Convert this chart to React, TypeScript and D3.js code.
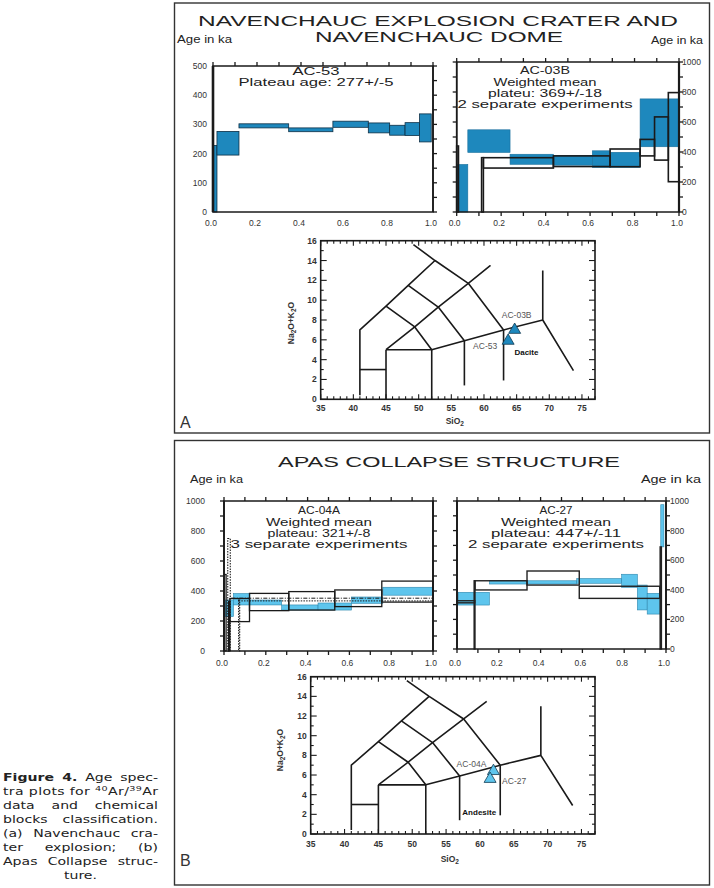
import React, { useEffect, useRef } from "react";
import * as d3 from "d3";

const W = 714;
const H = 888;

// ---------------- Data ----------------
const FRACTION_LABELS = [0, 0.2, 0.4, 0.6, 0.8, 1.0];
const AGE_LABELS_500 = [0, 100, 200, 300, 400, 500];
const AGE_LABELS_1000 = [0, 200, 400, 600, 800, 1000];
const SIO2_LABELS = [35, 40, 45, 50, 55, 60, 65, 70, 75];
const ALK_LABELS = [0, 2, 4, 6, 8, 10, 12, 14, 16];

type Step = [number, number, number, number]; // [cum. 39Ar start, end, age low, age high] (ka)

const AC53_STEPS: Step[] = [
  [0.0, 0.018, 0, 228],
  [0.018, 0.118, 195, 276],
  [0.118, 0.344, 288, 302],
  [0.344, 0.545, 275, 288],
  [0.545, 0.706, 290, 311],
  [0.706, 0.803, 271, 305],
  [0.803, 0.873, 263, 297],
  [0.873, 0.939, 262, 306],
  [0.939, 0.992, 240, 336],
];

const AC03B_EXP1: Step[] = [
  [0.0, 0.05, 0, 317],
  [0.05, 0.24, 397, 548],
  [0.24, 0.435, 318, 385],
  [0.435, 0.61, 312, 378],
  [0.61, 0.69, 297, 408],
  [0.69, 0.825, 297, 398],
  [0.825, 1.0, 435, 754],
];
const AC03B_EXP2: Step[] = [
  [0.0, 0.008, 0, 440],
  [0.112, 0.12, 0, 362],
  [0.12, 0.435, 293, 362],
  [0.435, 0.69, 303, 374],
  [0.69, 0.825, 302, 420],
  [0.825, 0.89, 374, 484],
  [0.89, 0.952, 346, 634],
  [0.952, 1.0, 202, 796],
];

const AC04A_EXP1: Step[] = [
  [0.005, 0.045, 229, 340],
  [0.045, 0.124, 307, 383],
  [0.124, 0.276, 307, 340],
  [0.276, 0.45, 273, 307],
  [0.45, 0.61, 273, 320],
  [0.61, 0.76, 318, 360],
  [0.76, 1.0, 372, 425],
];
const AC04A_EXP2: Step[] = [
  [0.0, 0.01, 0, 510],
  [0.022, 0.028, 0, 330],
  [0.028, 0.122, 196, 350],
  [0.122, 0.31, 269, 384],
  [0.31, 0.53, 273, 396],
  [0.53, 0.755, 296, 407],
  [0.755, 1.0, 326, 466],
];
const AC04A_EXP3: Step[] = [
  [0.018, 0.03, 0, 750],
  [0.07, 0.075, 0, 340],
];
const AC04A_PLATEAU = [
  { start: 0.035, age: 352 },
  { start: 0.07, age: 334 },
];

const AC27_EXP1: Step[] = [
  [0.006, 0.155, 297, 383],
  [0.155, 0.573, 439, 461],
  [0.573, 0.788, 444, 476],
  [0.788, 0.863, 417, 505],
  [0.863, 0.91, 264, 432],
  [0.91, 0.975, 236, 376],
  [0.975, 0.99, 690, 975],
];
const AC27_EXP2: Step[] = [
  [0.0, 0.085, 312, 326],
  [0.082, 0.086, 0, 461],
  [0.086, 0.335, 399, 461],
  [0.335, 0.585, 432, 527],
  [0.585, 0.97, 342, 424],
  [0.972, 0.978, 0, 690],
];

const TAS_FIELD_LINES: [number, number][][] = [
  [[41, 0.4], [41, 7], [45, 9.4], [48.4, 11.5], [52.5, 14]],
  [[49.2, 15.6], [52.5, 14], [57.6, 11.7], [63, 7]],
  [[41, 3], [45, 3]],
  [[45, 0], [45, 5]],
  [[45, 5], [52, 5]],
  [[52, 0], [52, 5]],
  [[45, 5], [49.4, 7.3], [53, 9.3], [57.6, 11.7], [61, 13.5]],
  [[45, 9.4], [49.4, 7.3], [52, 5]],
  [[48.4, 11.5], [53, 9.3], [57, 5.9]],
  [[52, 5], [57, 5.9], [63, 7], [69, 8]],
  [[57, 1.4], [57, 5.9]],
  [[63, 1.9], [63, 7]],
  [[69, 13], [69, 8], [73.7, 2.9]],
];

const SAMPLES_A = [
  { name: "AC-03B", sio2: 64.7, alk: 7.0 },
  { name: "AC-53", sio2: 63.7, alk: 5.9 },
];
const SAMPLES_B = [
  { name: "AC-04A", sio2: 62.0, alk: 6.4 },
  { name: "AC-27", sio2: 61.5, alk: 5.6 },
];
const ROCK_A = { name: "Dacite", sio2: 66.5, alk: 4.5 };
const ROCK_B = { name: "Andesite", sio2: 59.9, alk: 1.9 };

// ---------------- Styles / layout ----------------
const SANS = "'Liberation Sans', Arial, Helvetica, sans-serif";
const BLUE_A = "#1e88bd";
const BLUE_B = "#5ec5ed";
const INK = "#1a1a1a";

interface Layer {
  steps: Step[];
  fill: string;
  stroke: string;
  sw: number;
  dash?: string;
}
interface AgeCfg {
  l: number;
  r: number;
  t: number;
  b: number;
  yMax: number;
  labels: number[];
  labelSide: "left" | "right";
  labelGap: number;
  leftStep: number;
  rightStep: number;
  bottomTicks: boolean;
  leftW: number;
  rightW: number;
  layers: Layer[];
  plateau?: { start: number; age: number; dash: string }[];
  cx: number;
  lines: [string, number, number][];
  xLabelDy: number;
}

function AgeSpectrum({ c }: { c: AgeCfg }) {
  const x = d3.scaleLinear().domain([0, 1]).range([c.l, c.r]);
  const y = d3.scaleLinear().domain([0, c.yMax]).range([c.b, c.t]);
  const minorX = d3.range(0, 11).map((i) => i / 10);
  const leftTicks = c.leftStep ? d3.range(0, c.yMax + 0.1, c.leftStep) : [];
  const rightTicks = c.rightStep ? d3.range(0, c.yMax + 0.1, c.rightStep) : [];
  return (
    <g>
      {c.layers.map((layer, li) =>
        layer.steps.map((s, i) => (
          <rect
            key={`${li}-${i}`}
            x={x(s[0])}
            y={y(s[3])}
            width={x(s[1]) - x(s[0])}
            height={y(s[2]) - y(s[3])}
            fill={layer.fill}
            stroke={layer.stroke}
            strokeWidth={layer.sw}
            strokeDasharray={layer.dash}
          />
        ))
      )}
      {c.plateau?.map((p, i) => (
        <line
          key={`p${i}`}
          x1={x(p.start)}
          x2={x(1)}
          y1={y(p.age)}
          y2={y(p.age)}
          stroke={INK}
          strokeWidth={1}
          strokeDasharray={p.dash}
        />
      ))}
      <rect x={c.l} y={c.t} width={c.r - c.l} height={c.b - c.t} fill="none" stroke={INK} strokeWidth={1.5} />
      <line x1={c.l} x2={c.l} y1={c.t} y2={c.b} stroke={INK} strokeWidth={c.leftW} />
      <line x1={c.r} x2={c.r} y1={c.t} y2={c.b} stroke={INK} strokeWidth={c.rightW} />
      {minorX.map((v) => (
        <line key={`t${v}`} x1={x(v)} x2={x(v)} y1={c.t} y2={c.t - 4} stroke={INK} strokeWidth={1.3} />
      ))}
      {c.bottomTicks &&
        minorX.map((v) => (
          <line key={`b${v}`} x1={x(v)} x2={x(v)} y1={c.b} y2={c.b + 4} stroke={INK} strokeWidth={1.3} />
        ))}
      {leftTicks.map((v) => (
        <line key={`l${v}`} x1={c.l} x2={c.l - 4} y1={y(v)} y2={y(v)} stroke={INK} strokeWidth={1.3} />
      ))}
      {rightTicks.map((v) => (
        <line key={`r${v}`} x1={c.r} x2={c.r + 4} y1={y(v)} y2={y(v)} stroke={INK} strokeWidth={1.3} />
      ))}
      {c.labels.map((v) => (
        <text
          key={`yl${v}`}
          x={c.labelSide === "left" ? c.l - c.labelGap : c.r + c.labelGap}
          y={y(v) + 3}
          fontSize={8.5}
          textAnchor={c.labelSide === "left" ? "end" : "start"}
          fill="#333"
        >
          {v}
        </text>
      ))}
      {FRACTION_LABELS.map((v) => (
        <text key={`xl${v}`} x={x(v) - 2} y={c.b + c.xLabelDy} fontSize={8.5} textAnchor="middle" fill="#333">
          {v.toFixed(1)}
        </text>
      ))}
      {c.lines.map(([s, base, w], i) => (
        <text
          key={`tx${i}`}
          x={c.cx}
          y={base}
          fontSize={11}
          textAnchor="middle"
          textLength={w}
          lengthAdjust="spacingAndGlyphs"
          fill="#222"
        >
          {s}
        </text>
      ))}
    </g>
  );
}

interface TasCfg {
  l: number;
  r: number;
  t: number;
  b: number;
  samples: { name: string; sio2: number; alk: number }[];
  labelOffsets: { dx: number; dy: number; anchor: string }[];
  rock: { name: string; sio2: number; alk: number };
  fill: string;
  yLabelX: number;
  yLabelY: number;
  xLabelY: number;
  tickLabelDy: number;
}

function TAS({ c }: { c: TasCfg }) {
  const x = d3.scaleLinear().domain([35, 77]).range([c.l, c.r]);
  const y = d3.scaleLinear().domain([0, 16]).range([c.b, c.t]);
  const line = d3
    .line<[number, number]>()
    .x((d) => x(d[0]))
    .y((d) => y(d[1]));
  const xt = d3.range(35, 78);
  const yt = d3.range(0, 17);
  const tri = d3.symbol(d3.symbolTriangle, 62)() as string;
  return (
    <g>
      {TAS_FIELD_LINES.map((pts, i) => (
        <path key={i} d={line(pts) as string} fill="none" stroke={INK} strokeWidth={1.6} strokeLinejoin="round" />
      ))}
      <rect x={c.l} y={c.t} width={c.r - c.l} height={c.b - c.t} fill="none" stroke={INK} strokeWidth={1.6} />
      {xt.map((v) => {
        const len = v % 5 === 0 ? 5 : 3;
        return (
          <g key={`x${v}`}>
            <line x1={x(v)} x2={x(v)} y1={c.b} y2={c.b - len} stroke={INK} strokeWidth={1.1} />
            <line x1={x(v)} x2={x(v)} y1={c.t} y2={c.t + len} stroke={INK} strokeWidth={1.1} />
          </g>
        );
      })}
      {yt.map((v) => {
        const len = v % 2 === 0 ? 6 : 3;
        return (
          <g key={`y${v}`}>
            <line x1={c.l} x2={c.l + len} y1={y(v)} y2={y(v)} stroke={INK} strokeWidth={1.1} />
            <line x1={c.r} x2={c.r - len} y1={y(v)} y2={y(v)} stroke={INK} strokeWidth={1.1} />
          </g>
        );
      })}
      {SIO2_LABELS.map((v) => (
        <text key={`xl${v}`} x={x(v)} y={c.b + c.tickLabelDy} fontSize={8.5} fontWeight="bold" textAnchor="middle" fill="#333">
          {v}
        </text>
      ))}
      {ALK_LABELS.map((v) => (
        <text key={`yl${v}`} x={c.l - 4} y={y(v) + 3} fontSize={8.5} fontWeight="bold" textAnchor="end" fill="#333">
          {v}
        </text>
      ))}
      <text x={(c.l + c.r) / 2 - 3} y={c.xLabelY} fontSize={8.5} fontWeight="bold" textAnchor="middle" fill="#333">
        SiO
        <tspan fontSize={6.5} dy={2}>
          2
        </tspan>
      </text>
      <text
        transform={`translate(${c.yLabelX},${c.yLabelY}) rotate(-90)`}
        fontSize={8.5}
        fontWeight="bold"
        textAnchor="middle"
        fill="#333"
      >
        Na
        <tspan fontSize={6.5} dy={2}>
          2
        </tspan>
        <tspan dy={-2}>O+K</tspan>
        <tspan fontSize={6.5} dy={2}>
          2
        </tspan>
        <tspan dy={-2}>O</tspan>
      </text>
      {c.samples.map((s, i) => (
        <g key={s.name}>
          <path
            d={tri}
            transform={`translate(${x(s.sio2)},${y(s.alk)})`}
            fill={c.fill}
            stroke="#123a50"
            strokeWidth={0.8}
          />
          <text
            x={x(s.sio2) + c.labelOffsets[i].dx}
            y={y(s.alk) + c.labelOffsets[i].dy}
            fontSize={8.5}
            textAnchor={c.labelOffsets[i].anchor}
            fill="#555"
          >
            {s.name}
          </text>
        </g>
      ))}
      <text x={x(c.rock.sio2)} y={y(c.rock.alk)} fontSize={8} fontWeight="bold" textAnchor="middle" fill="#111">
        {c.rock.name}
      </text>
    </g>
  );
}

// ---------------- Panel configurations ----------------
const AC53_CFG: AgeCfg = {
  l: 213, r: 433, t: 66, b: 212, yMax: 500,
  labels: AGE_LABELS_500, labelSide: "left", labelGap: 6,
  leftStep: 0, rightStep: 50, bottomTicks: false, leftW: 2.6, rightW: 1.6,
  layers: [{ steps: AC53_STEPS, fill: BLUE_A, stroke: "#0d2f45", sw: 0.8 }],
  cx: 316,
  lines: [["AC-53", 75, 47], ["Plateau age: 277+/-5", 86, 155]],
  xLabelDy: 14,
};
const AC03B_CFG: AgeCfg = {
  l: 456.7, r: 679, t: 62, b: 212, yMax: 1000,
  labels: AGE_LABELS_1000, labelSide: "right", labelGap: 3,
  leftStep: 100, rightStep: 100, bottomTicks: true, leftW: 1.6, rightW: 2.2,
  layers: [
    { steps: AC03B_EXP1, fill: BLUE_A, stroke: "#1a6f9c", sw: 0.6 },
    { steps: AC03B_EXP2, fill: "none", stroke: INK, sw: 1.6 },
  ],
  cx: 545,
  lines: [
    ["AC-03B", 74, 50],
    ["Weighted mean", 85.5, 103],
    ["plateu: 369+/-18", 96.5, 114],
    ["2 separate experiments", 107.5, 175],
  ],
  xLabelDy: 14,
};
const AC04A_CFG: AgeCfg = {
  l: 224, r: 433, t: 501, b: 651, yMax: 1000,
  labels: AGE_LABELS_1000, labelSide: "left", labelGap: 19,
  leftStep: 100, rightStep: 100, bottomTicks: true, leftW: 1.8, rightW: 1.8,
  layers: [
    { steps: AC04A_EXP1, fill: BLUE_B, stroke: "#2d86ad", sw: 0.6 },
    { steps: AC04A_EXP2, fill: "none", stroke: INK, sw: 1.3 },
    { steps: AC04A_EXP3, fill: "none", stroke: INK, sw: 1.1, dash: "1.5 1.2" },
  ],
  plateau: [
    { start: AC04A_PLATEAU[0].start, age: AC04A_PLATEAU[0].age, dash: "4 1.5 1 1.5" },
    { start: AC04A_PLATEAU[1].start, age: AC04A_PLATEAU[1].age, dash: "1.5 1.2" },
  ],
  cx: 319,
  lines: [
    ["AC-04A", 514, 42],
    ["Weighted mean", 525.5, 106],
    ["plateau: 321+/-8", 536.5, 103],
    ["3 separate experiments", 547.5, 177],
  ],
  xLabelDy: 15,
};
const AC27_CFG: AgeCfg = {
  l: 457, r: 666, t: 501, b: 649, yMax: 1000,
  labels: AGE_LABELS_1000, labelSide: "right", labelGap: 4,
  leftStep: 100, rightStep: 100, bottomTicks: true, leftW: 1.8, rightW: 1.8,
  layers: [
    { steps: AC27_EXP1, fill: BLUE_B, stroke: "#2d86ad", sw: 0.6 },
    { steps: AC27_EXP2, fill: "none", stroke: "#222", sw: 1.4 },
  ],
  cx: 556,
  lines: [
    ["AC-27", 514, 33],
    ["Weighted mean", 525.5, 110],
    ["plateau: 447+/-11", 536.5, 130],
    ["2 separate experiments", 547.5, 176],
  ],
  xLabelDy: 17,
};

const TAS_A: TasCfg = {
  l: 320.7, r: 595, t: 240.7, b: 399.3,
  samples: SAMPLES_A,
  labelOffsets: [
    { dx: 2, dy: -12, anchor: "middle" },
    { dx: -23, dy: 8, anchor: "middle" },
  ],
  rock: ROCK_A,
  fill: BLUE_A,
  yLabelX: 294,
  yLabelY: 323,
  xLabelY: 424,
  tickLabelDy: 12,
};
const TAS_B: TasCfg = {
  l: 310.7, r: 595, t: 676.7, b: 834,
  samples: SAMPLES_B,
  labelOffsets: [
    { dx: -22, dy: -4, anchor: "middle" },
    { dx: 12, dy: 5, anchor: "start" },
  ],
  rock: ROCK_B,
  fill: BLUE_B,
  yLabelX: 283,
  yLabelY: 750,
  xLabelY: 862,
  tickLabelDy: 13,
};

const CAPTION_SCALE = 1.28;
const CAPTION_WIDTH = 155;

export default function App() {
  const ref = useRef<SVGSVGElement>(null);

  useEffect(() => {
    if (!ref.current) return;
    d3.select(ref.current)
      .selectAll<SVGTextElement, unknown>("text[data-justify]")
      .each(function () {
        const el = this;
        el.setAttribute("word-spacing", "0");
        const target = +(el.getAttribute("data-justify") || 0);
        const natural = el.getBBox().width;
        const spaces = ((el.textContent || "").match(/ /g) || []).length;
        if (spaces > 0 && target > natural) {
          el.setAttribute("word-spacing", String((target - natural) / spaces));
        }
      });
  }, []);

  const capY = [781, 795, 809, 823, 837, 851, 865];
  const jwNum = CAPTION_WIDTH / CAPTION_SCALE;
  const jw = String(jwNum);
  return (
    <svg
      ref={ref}
      width={W}
      height={H}
      viewBox={`0 0 ${W} ${H}`}
      style={{ position: "absolute", left: 0, top: 0, background: "#fff" }}
      fontFamily={SANS}
    >
      <rect width={W} height={H} fill="#fff" />

      {/* Panel A */}
      <rect x={174.5} y={3} width={535} height={430} fill="none" stroke="#333" strokeWidth={1.4} />
      <text x={438} y={26} fontSize={15} textAnchor="middle" textLength={480} lengthAdjust="spacingAndGlyphs" fill="#222">
        NAVENCHAUC EXPLOSION CRATER AND
      </text>
      <text x={439} y={42} fontSize={15} textAnchor="middle" textLength={248} lengthAdjust="spacingAndGlyphs" fill="#222">
        NAVENCHAUC DOME
      </text>
      <text x={177} y={43} fontSize={10} textLength={55} lengthAdjust="spacingAndGlyphs" fill="#222">
        Age in ka
      </text>
      <text x={651} y={44} fontSize={10} textLength={52} lengthAdjust="spacingAndGlyphs" fill="#222">
        Age in ka
      </text>
      <AgeSpectrum c={AC53_CFG} />
      <AgeSpectrum c={AC03B_CFG} />
      <TAS c={TAS_A} />
      <text x={180} y={428} fontSize={16} fill="#333">
        A
      </text>

      {/* Panel B */}
      <rect x={174.5} y={440.5} width={535} height={444.5} fill="none" stroke="#333" strokeWidth={1.4} />
      <text x={449} y={467} fontSize={15} textAnchor="middle" textLength={342} lengthAdjust="spacingAndGlyphs" fill="#222">
        APAS COLLAPSE STRUCTURE
      </text>
      <text x={190} y={483} fontSize={10} textLength={53} lengthAdjust="spacingAndGlyphs" fill="#222">
        Age in ka
      </text>
      <text x={641} y={483} fontSize={10} textLength={60} lengthAdjust="spacingAndGlyphs" fill="#222">
        Age in ka
      </text>
      <AgeSpectrum c={AC04A_CFG} />
      <AgeSpectrum c={AC27_CFG} />
      <TAS c={TAS_B} />
      <text x={180} y={866} fontSize={16} fill="#333">
        B
      </text>

      {/* Caption */}
      <g
        transform={`translate(3,0) scale(${CAPTION_SCALE},1)`}
        fontFamily="'DejaVu Sans', Verdana, sans-serif"
        fontSize={11}
        fill="#222"
      >
        <text x={0} y={capY[0]} data-justify={jw}>
          <tspan fontWeight="bold">Figure 4.</tspan> Age spec-
        </text>
        <text x={0} y={capY[1]} textLength={jwNum} lengthAdjust="spacing">
          tra plots for <tspan fontSize={7.5} dy={-4}>40</tspan>
          <tspan dy={4}>Ar/</tspan>
          <tspan fontSize={7.5} dy={-4}>39</tspan>
          <tspan dy={4}>Ar</tspan>
        </text>
        <text x={0} y={capY[2]} data-justify={jw}>
          data and chemical
        </text>
        <text x={0} y={capY[3]} data-justify={jw}>
          blocks classification.
        </text>
        <text x={0} y={capY[4]} data-justify={jw}>
          (a) Navenchauc cra-
        </text>
        <text x={0} y={capY[5]} data-justify={jw}>
          ter explosion; (b)
        </text>
        <text x={0} y={capY[6]} data-justify={jw}>
          Apas Collapse struc-
        </text>
        <text x={jwNum / 2} y={879} textAnchor="middle">
          ture.
        </text>
      </g>
    </svg>
  );
}
